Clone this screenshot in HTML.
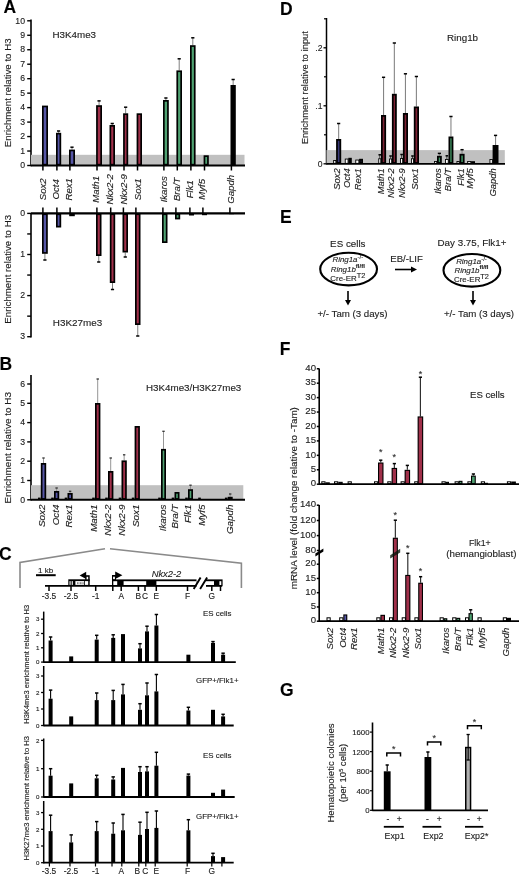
<!DOCTYPE html>
<html><head><meta charset="utf-8"><style>
html,body{margin:0;padding:0;background:#fff;}
svg{display:block;font-family:"Liberation Sans", sans-serif;filter:blur(0.25px);}
text{filter:grayscale(1);stroke:#2a2a2a;stroke-width:0.13px;}
</style></head><body>
<svg width="520" height="875" viewBox="0 0 520 875">
<rect width="520" height="875" fill="#fff"/>
<text x="3.60" y="12.70" font-size="17.5" text-anchor="start" font-weight="bold" fill="#000">A</text>
<line x1="31.00" y1="19.50" x2="31.00" y2="166.25" stroke="#000" stroke-width="1.6"/>
<rect x="31.00" y="154.80" width="213.50" height="10.70" fill="#c0c0c0"/>
<line x1="27.20" y1="165.50" x2="31.00" y2="165.50" stroke="#000" stroke-width="1.4"/>
<text x="25.00" y="168.20" font-size="8.7" text-anchor="end" fill="#1a1a1a">0</text>
<line x1="27.20" y1="151.03" x2="31.00" y2="151.03" stroke="#000" stroke-width="1.4"/>
<text x="25.00" y="153.73" font-size="8.7" text-anchor="end" fill="#1a1a1a">1</text>
<line x1="27.20" y1="136.56" x2="31.00" y2="136.56" stroke="#000" stroke-width="1.4"/>
<text x="25.00" y="139.26" font-size="8.7" text-anchor="end" fill="#1a1a1a">2</text>
<line x1="27.20" y1="122.09" x2="31.00" y2="122.09" stroke="#000" stroke-width="1.4"/>
<text x="25.00" y="124.79" font-size="8.7" text-anchor="end" fill="#1a1a1a">3</text>
<line x1="27.20" y1="107.62" x2="31.00" y2="107.62" stroke="#000" stroke-width="1.4"/>
<text x="25.00" y="110.32" font-size="8.7" text-anchor="end" fill="#1a1a1a">4</text>
<line x1="27.20" y1="93.15" x2="31.00" y2="93.15" stroke="#000" stroke-width="1.4"/>
<text x="25.00" y="95.85" font-size="8.7" text-anchor="end" fill="#1a1a1a">5</text>
<line x1="27.20" y1="78.68" x2="31.00" y2="78.68" stroke="#000" stroke-width="1.4"/>
<text x="25.00" y="81.38" font-size="8.7" text-anchor="end" fill="#1a1a1a">6</text>
<line x1="27.20" y1="64.21" x2="31.00" y2="64.21" stroke="#000" stroke-width="1.4"/>
<text x="25.00" y="66.91" font-size="8.7" text-anchor="end" fill="#1a1a1a">7</text>
<line x1="27.20" y1="49.74" x2="31.00" y2="49.74" stroke="#000" stroke-width="1.4"/>
<text x="25.00" y="52.44" font-size="8.7" text-anchor="end" fill="#1a1a1a">8</text>
<line x1="27.20" y1="35.27" x2="31.00" y2="35.27" stroke="#000" stroke-width="1.4"/>
<text x="25.00" y="37.97" font-size="8.7" text-anchor="end" fill="#1a1a1a">9</text>
<line x1="27.20" y1="20.80" x2="31.00" y2="20.80" stroke="#000" stroke-width="1.4"/>
<text x="25.00" y="23.50" font-size="8.7" text-anchor="end" fill="#1a1a1a">10</text>
<text transform="translate(11.00,92.80) rotate(-90)" font-size="9.7" text-anchor="middle" fill="#1a1a1a">Enrichment relative to H3</text>
<text x="52.50" y="37.60" font-size="9.8" text-anchor="start" fill="#1a1a1a">H3K4me3</text>
<rect x="42.00" y="105.60" width="6.00" height="59.90" fill="#000"/>
<rect x="43.70" y="107.30" width="2.60" height="56.50" fill="#5656a6"/>
<line x1="42.90" y1="165.50" x2="42.90" y2="170.50" stroke="#000" stroke-width="1.5"/>
<line x1="58.60" y1="132.80" x2="58.60" y2="131.00" stroke="#808080" stroke-width="1.0"/>
<line x1="57.00" y1="131.00" x2="60.20" y2="131.00" stroke="#000" stroke-width="1.5"/>
<rect x="56.00" y="132.80" width="5.20" height="32.70" fill="#000"/>
<rect x="57.70" y="134.50" width="1.80" height="29.30" fill="#5656a6"/>
<line x1="56.90" y1="165.50" x2="56.90" y2="170.50" stroke="#000" stroke-width="1.5"/>
<line x1="72.00" y1="149.60" x2="72.00" y2="147.20" stroke="#808080" stroke-width="1.0"/>
<line x1="70.40" y1="147.20" x2="73.60" y2="147.20" stroke="#000" stroke-width="1.5"/>
<rect x="69.00" y="149.60" width="6.00" height="15.90" fill="#000"/>
<rect x="70.70" y="151.30" width="2.60" height="12.50" fill="#5656a6"/>
<line x1="69.90" y1="165.50" x2="69.90" y2="170.50" stroke="#000" stroke-width="1.5"/>
<line x1="99.05" y1="105.20" x2="99.05" y2="100.90" stroke="#808080" stroke-width="1.0"/>
<line x1="97.45" y1="100.90" x2="100.65" y2="100.90" stroke="#000" stroke-width="1.5"/>
<rect x="96.10" y="105.20" width="5.90" height="60.30" fill="#000"/>
<rect x="97.80" y="106.90" width="2.50" height="56.90" fill="#a0304a"/>
<line x1="97.00" y1="165.50" x2="97.00" y2="170.50" stroke="#000" stroke-width="1.5"/>
<line x1="112.25" y1="125.00" x2="112.25" y2="123.50" stroke="#808080" stroke-width="1.0"/>
<line x1="110.65" y1="123.50" x2="113.85" y2="123.50" stroke="#000" stroke-width="1.5"/>
<rect x="109.50" y="125.00" width="5.50" height="40.50" fill="#000"/>
<rect x="111.20" y="126.70" width="2.10" height="37.10" fill="#a0304a"/>
<line x1="110.40" y1="165.50" x2="110.40" y2="170.50" stroke="#000" stroke-width="1.5"/>
<line x1="125.65" y1="113.30" x2="125.65" y2="107.20" stroke="#808080" stroke-width="1.0"/>
<line x1="124.05" y1="107.20" x2="127.25" y2="107.20" stroke="#000" stroke-width="1.5"/>
<rect x="123.10" y="113.30" width="5.10" height="52.20" fill="#000"/>
<rect x="124.80" y="115.00" width="1.70" height="48.80" fill="#a0304a"/>
<line x1="124.00" y1="165.50" x2="124.00" y2="170.50" stroke="#000" stroke-width="1.5"/>
<rect x="136.60" y="113.30" width="5.40" height="52.20" fill="#000"/>
<rect x="138.30" y="115.00" width="2.00" height="48.80" fill="#a0304a"/>
<line x1="137.50" y1="165.50" x2="137.50" y2="170.50" stroke="#000" stroke-width="1.5"/>
<line x1="165.90" y1="100.00" x2="165.90" y2="98.00" stroke="#808080" stroke-width="1.0"/>
<line x1="164.30" y1="98.00" x2="167.50" y2="98.00" stroke="#000" stroke-width="1.5"/>
<rect x="163.00" y="100.00" width="5.80" height="65.50" fill="#000"/>
<rect x="164.70" y="101.70" width="2.40" height="62.10" fill="#4fa272"/>
<line x1="163.90" y1="165.50" x2="163.90" y2="170.50" stroke="#000" stroke-width="1.5"/>
<line x1="179.20" y1="70.40" x2="179.20" y2="58.80" stroke="#808080" stroke-width="1.0"/>
<line x1="177.60" y1="58.80" x2="180.80" y2="58.80" stroke="#000" stroke-width="1.5"/>
<rect x="176.40" y="70.40" width="5.60" height="95.10" fill="#000"/>
<rect x="178.10" y="72.10" width="2.20" height="91.70" fill="#4fa272"/>
<line x1="177.30" y1="165.50" x2="177.30" y2="170.50" stroke="#000" stroke-width="1.5"/>
<line x1="192.80" y1="45.20" x2="192.80" y2="37.80" stroke="#808080" stroke-width="1.0"/>
<line x1="191.20" y1="37.80" x2="194.40" y2="37.80" stroke="#000" stroke-width="1.5"/>
<rect x="190.00" y="45.20" width="5.60" height="120.30" fill="#000"/>
<rect x="191.70" y="46.90" width="2.20" height="116.90" fill="#4fa272"/>
<line x1="190.90" y1="165.50" x2="190.90" y2="170.50" stroke="#000" stroke-width="1.5"/>
<rect x="203.60" y="155.30" width="5.20" height="10.20" fill="#000"/>
<rect x="205.30" y="157.00" width="1.80" height="6.80" fill="#4fa272"/>
<line x1="204.50" y1="165.50" x2="204.50" y2="170.50" stroke="#000" stroke-width="1.5"/>
<line x1="233.15" y1="85.00" x2="233.15" y2="79.50" stroke="#808080" stroke-width="1.0"/>
<line x1="231.55" y1="79.50" x2="234.75" y2="79.50" stroke="#000" stroke-width="1.5"/>
<rect x="230.50" y="85.00" width="5.30" height="80.50" fill="#000"/>
<rect x="232.20" y="86.70" width="1.90" height="77.10" fill="#000"/>
<line x1="231.40" y1="165.50" x2="231.40" y2="170.50" stroke="#000" stroke-width="1.5"/>
<line x1="31.00" y1="165.50" x2="245.00" y2="165.50" stroke="#000" stroke-width="2.2"/>
<text transform="translate(46.36,189.30) rotate(-90)" font-size="9.6" text-anchor="middle" font-style="italic" fill="#1a1a1a">Sox2</text>
<text transform="translate(59.46,189.30) rotate(-90)" font-size="9.6" text-anchor="middle" font-style="italic" fill="#1a1a1a">Oct4</text>
<text transform="translate(72.16,189.30) rotate(-90)" font-size="9.6" text-anchor="middle" font-style="italic" fill="#1a1a1a">Rex1</text>
<text transform="translate(99.26,189.30) rotate(-90)" font-size="9.6" text-anchor="middle" font-style="italic" fill="#1a1a1a">Math1</text>
<text transform="translate(113.06,189.30) rotate(-90)" font-size="9.6" text-anchor="middle" font-style="italic" fill="#1a1a1a">Nkx2-2</text>
<text transform="translate(127.26,189.30) rotate(-90)" font-size="9.6" text-anchor="middle" font-style="italic" fill="#1a1a1a">Nkx2-9</text>
<text transform="translate(140.56,189.30) rotate(-90)" font-size="9.6" text-anchor="middle" font-style="italic" fill="#1a1a1a">Sox1</text>
<text transform="translate(167.06,189.30) rotate(-90)" font-size="9.6" text-anchor="middle" font-style="italic" fill="#1a1a1a">Ikaros</text>
<text transform="translate(180.16,189.30) rotate(-90)" font-size="9.6" text-anchor="middle" font-style="italic" fill="#1a1a1a">Bra/T</text>
<text transform="translate(193.16,189.30) rotate(-90)" font-size="9.6" text-anchor="middle" font-style="italic" fill="#1a1a1a">Flk1</text>
<text transform="translate(205.46,189.30) rotate(-90)" font-size="9.6" text-anchor="middle" font-style="italic" fill="#1a1a1a">Myf5</text>
<text transform="translate(234.46,189.30) rotate(-90)" font-size="9.6" text-anchor="middle" font-style="italic" fill="#1a1a1a">Gapdh</text>
<line x1="31.00" y1="212.90" x2="31.00" y2="337.50" stroke="#000" stroke-width="1.6"/>
<line x1="27.20" y1="213.40" x2="31.00" y2="213.40" stroke="#000" stroke-width="1.4"/>
<text x="25.00" y="216.10" font-size="8.7" text-anchor="end" fill="#1a1a1a">0</text>
<line x1="27.20" y1="254.50" x2="31.00" y2="254.50" stroke="#000" stroke-width="1.4"/>
<text x="25.00" y="257.20" font-size="8.7" text-anchor="end" fill="#1a1a1a">1</text>
<line x1="27.20" y1="295.60" x2="31.00" y2="295.60" stroke="#000" stroke-width="1.4"/>
<text x="25.00" y="298.30" font-size="8.7" text-anchor="end" fill="#1a1a1a">2</text>
<line x1="27.20" y1="336.70" x2="31.00" y2="336.70" stroke="#000" stroke-width="1.4"/>
<text x="25.00" y="339.40" font-size="8.7" text-anchor="end" fill="#1a1a1a">3</text>
<line x1="27.20" y1="233.95" x2="31.00" y2="233.95" stroke="#000" stroke-width="1.4"/>
<line x1="27.20" y1="275.05" x2="31.00" y2="275.05" stroke="#000" stroke-width="1.4"/>
<line x1="27.20" y1="316.15" x2="31.00" y2="316.15" stroke="#000" stroke-width="1.4"/>
<text transform="translate(11.10,269.30) rotate(-90)" font-size="9.7" text-anchor="middle" fill="#1a1a1a">Enrichment relative to H3</text>
<text x="52.80" y="326.20" font-size="9.9" text-anchor="start" fill="#1a1a1a">H3K27me3</text>
<line x1="44.90" y1="253.80" x2="44.90" y2="260.00" stroke="#808080" stroke-width="1.0"/>
<line x1="43.30" y1="260.00" x2="46.50" y2="260.00" stroke="#000" stroke-width="1.5"/>
<rect x="42.00" y="213.40" width="5.80" height="40.40" fill="#000"/>
<rect x="43.70" y="215.10" width="2.40" height="37.00" fill="#5656a6"/>
<line x1="42.90" y1="207.50" x2="42.90" y2="213.40" stroke="#000" stroke-width="1.5"/>
<rect x="56.00" y="213.40" width="5.20" height="14.10" fill="#000"/>
<rect x="57.70" y="215.10" width="1.80" height="10.70" fill="#5656a6"/>
<line x1="56.90" y1="207.50" x2="56.90" y2="213.40" stroke="#000" stroke-width="1.5"/>
<rect x="69.20" y="213.40" width="5.60" height="2.80" fill="#000"/>
<line x1="70.10" y1="207.50" x2="70.10" y2="213.40" stroke="#000" stroke-width="1.5"/>
<line x1="98.75" y1="256.00" x2="98.75" y2="262.00" stroke="#808080" stroke-width="1.0"/>
<line x1="97.15" y1="262.00" x2="100.35" y2="262.00" stroke="#000" stroke-width="1.5"/>
<rect x="96.00" y="213.40" width="5.50" height="42.60" fill="#000"/>
<rect x="97.70" y="215.10" width="2.10" height="39.20" fill="#a0304a"/>
<line x1="96.90" y1="207.50" x2="96.90" y2="213.40" stroke="#000" stroke-width="1.5"/>
<line x1="112.50" y1="283.00" x2="112.50" y2="289.50" stroke="#808080" stroke-width="1.0"/>
<line x1="110.90" y1="289.50" x2="114.10" y2="289.50" stroke="#000" stroke-width="1.5"/>
<rect x="109.80" y="213.40" width="5.40" height="69.60" fill="#000"/>
<rect x="111.50" y="215.10" width="2.00" height="66.20" fill="#a0304a"/>
<line x1="110.70" y1="207.50" x2="110.70" y2="213.40" stroke="#000" stroke-width="1.5"/>
<line x1="125.25" y1="252.50" x2="125.25" y2="257.00" stroke="#808080" stroke-width="1.0"/>
<line x1="123.65" y1="257.00" x2="126.85" y2="257.00" stroke="#000" stroke-width="1.5"/>
<rect x="122.50" y="213.40" width="5.50" height="39.10" fill="#000"/>
<rect x="124.20" y="215.10" width="2.10" height="35.70" fill="#a0304a"/>
<line x1="123.40" y1="207.50" x2="123.40" y2="213.40" stroke="#000" stroke-width="1.5"/>
<line x1="137.75" y1="325.00" x2="137.75" y2="336.00" stroke="#808080" stroke-width="1.0"/>
<line x1="136.15" y1="336.00" x2="139.35" y2="336.00" stroke="#000" stroke-width="1.5"/>
<rect x="135.00" y="213.40" width="5.50" height="111.60" fill="#000"/>
<rect x="136.70" y="215.10" width="2.10" height="108.20" fill="#a0304a"/>
<line x1="135.90" y1="207.50" x2="135.90" y2="213.40" stroke="#000" stroke-width="1.5"/>
<rect x="162.00" y="213.40" width="5.50" height="29.60" fill="#000"/>
<rect x="163.70" y="215.10" width="2.10" height="26.20" fill="#4fa272"/>
<line x1="162.90" y1="207.50" x2="162.90" y2="213.40" stroke="#000" stroke-width="1.5"/>
<rect x="175.00" y="213.40" width="5.20" height="6.00" fill="#000"/>
<rect x="176.70" y="215.10" width="1.80" height="2.60" fill="#4fa272"/>
<line x1="175.90" y1="207.50" x2="175.90" y2="213.40" stroke="#000" stroke-width="1.5"/>
<rect x="189.00" y="213.40" width="5.00" height="2.10" fill="#000"/>
<line x1="189.90" y1="207.50" x2="189.90" y2="213.40" stroke="#000" stroke-width="1.5"/>
<rect x="202.00" y="213.40" width="5.00" height="1.80" fill="#000"/>
<line x1="202.90" y1="207.50" x2="202.90" y2="213.40" stroke="#000" stroke-width="1.5"/>
<rect x="229.00" y="213.40" width="5.00" height="0.80" fill="#000"/>
<line x1="229.90" y1="207.50" x2="229.90" y2="213.40" stroke="#000" stroke-width="1.5"/>
<line x1="31.00" y1="213.40" x2="245.00" y2="213.40" stroke="#000" stroke-width="2.1"/>
<text x="-0.50" y="369.60" font-size="17.5" text-anchor="start" font-weight="bold" fill="#000">B</text>
<line x1="31.00" y1="375.00" x2="31.00" y2="500.55" stroke="#000" stroke-width="1.6"/>
<rect x="31.00" y="485.20" width="212.30" height="14.60" fill="#c0c0c0"/>
<line x1="27.20" y1="499.80" x2="31.00" y2="499.80" stroke="#000" stroke-width="1.4"/>
<text x="25.00" y="502.50" font-size="8.7" text-anchor="end" fill="#1a1a1a">0</text>
<line x1="27.20" y1="480.50" x2="31.00" y2="480.50" stroke="#000" stroke-width="1.4"/>
<text x="25.00" y="483.20" font-size="8.7" text-anchor="end" fill="#1a1a1a">1</text>
<line x1="27.20" y1="461.20" x2="31.00" y2="461.20" stroke="#000" stroke-width="1.4"/>
<text x="25.00" y="463.90" font-size="8.7" text-anchor="end" fill="#1a1a1a">2</text>
<line x1="27.20" y1="441.90" x2="31.00" y2="441.90" stroke="#000" stroke-width="1.4"/>
<text x="25.00" y="444.60" font-size="8.7" text-anchor="end" fill="#1a1a1a">3</text>
<line x1="27.20" y1="422.60" x2="31.00" y2="422.60" stroke="#000" stroke-width="1.4"/>
<text x="25.00" y="425.30" font-size="8.7" text-anchor="end" fill="#1a1a1a">4</text>
<line x1="27.20" y1="403.30" x2="31.00" y2="403.30" stroke="#000" stroke-width="1.4"/>
<text x="25.00" y="406.00" font-size="8.7" text-anchor="end" fill="#1a1a1a">5</text>
<line x1="27.20" y1="384.00" x2="31.00" y2="384.00" stroke="#000" stroke-width="1.4"/>
<text x="25.00" y="386.70" font-size="8.7" text-anchor="end" fill="#1a1a1a">6</text>
<text transform="translate(11.30,447.80) rotate(-90)" font-size="9.95" text-anchor="middle" fill="#1a1a1a">Enrichment relative to H3</text>
<text x="146.00" y="391.20" font-size="9.8" text-anchor="start" fill="#1a1a1a">H3K4me3/H3K27me3</text>
<line x1="43.50" y1="463.00" x2="43.50" y2="458.00" stroke="#8a8a8a" stroke-width="0.9"/>
<line x1="42.30" y1="458.00" x2="44.70" y2="458.00" stroke="#333" stroke-width="1.3"/>
<rect x="40.80" y="463.00" width="5.40" height="36.80" fill="#000"/>
<rect x="42.50" y="464.70" width="2.00" height="33.40" fill="#5656a6"/>
<rect x="38.00" y="497.60" width="2.60" height="2.20" fill="#000"/>
<line x1="56.60" y1="491.00" x2="56.60" y2="488.00" stroke="#8a8a8a" stroke-width="0.9"/>
<line x1="55.40" y1="488.00" x2="57.80" y2="488.00" stroke="#333" stroke-width="1.3"/>
<rect x="54.00" y="491.00" width="5.20" height="8.80" fill="#000"/>
<rect x="55.70" y="492.70" width="1.80" height="5.40" fill="#5656a6"/>
<rect x="51.20" y="497.60" width="2.60" height="2.20" fill="#000"/>
<line x1="70.10" y1="493.00" x2="70.10" y2="491.30" stroke="#8a8a8a" stroke-width="0.9"/>
<line x1="68.90" y1="491.30" x2="71.30" y2="491.30" stroke="#333" stroke-width="1.3"/>
<rect x="67.50" y="493.00" width="5.20" height="6.80" fill="#000"/>
<rect x="69.20" y="494.70" width="1.80" height="3.40" fill="#5656a6"/>
<rect x="64.70" y="497.60" width="2.60" height="2.20" fill="#000"/>
<line x1="97.70" y1="403.00" x2="97.70" y2="379.00" stroke="#8a8a8a" stroke-width="0.9"/>
<line x1="96.50" y1="379.00" x2="98.90" y2="379.00" stroke="#333" stroke-width="1.3"/>
<rect x="95.00" y="403.00" width="5.40" height="96.80" fill="#000"/>
<rect x="96.70" y="404.70" width="2.00" height="93.40" fill="#a0304a"/>
<rect x="92.20" y="497.60" width="2.60" height="2.20" fill="#000"/>
<line x1="110.70" y1="471.00" x2="110.70" y2="458.00" stroke="#8a8a8a" stroke-width="0.9"/>
<line x1="109.50" y1="458.00" x2="111.90" y2="458.00" stroke="#333" stroke-width="1.3"/>
<rect x="108.00" y="471.00" width="5.40" height="28.80" fill="#000"/>
<rect x="109.70" y="472.70" width="2.00" height="25.40" fill="#a0304a"/>
<rect x="105.20" y="497.60" width="2.60" height="2.20" fill="#000"/>
<line x1="124.15" y1="460.40" x2="124.15" y2="454.80" stroke="#8a8a8a" stroke-width="0.9"/>
<line x1="122.95" y1="454.80" x2="125.35" y2="454.80" stroke="#333" stroke-width="1.3"/>
<rect x="121.50" y="460.40" width="5.30" height="39.40" fill="#000"/>
<rect x="123.20" y="462.10" width="1.90" height="36.00" fill="#a0304a"/>
<rect x="118.70" y="497.60" width="2.60" height="2.20" fill="#000"/>
<rect x="134.60" y="426.00" width="5.30" height="73.80" fill="#000"/>
<rect x="136.30" y="427.70" width="1.90" height="70.40" fill="#a0304a"/>
<rect x="131.80" y="497.60" width="2.60" height="2.20" fill="#000"/>
<line x1="163.50" y1="448.90" x2="163.50" y2="431.30" stroke="#8a8a8a" stroke-width="0.9"/>
<line x1="162.30" y1="431.30" x2="164.70" y2="431.30" stroke="#333" stroke-width="1.3"/>
<rect x="161.00" y="448.90" width="5.00" height="50.90" fill="#000"/>
<rect x="162.70" y="450.60" width="1.60" height="47.50" fill="#4fa272"/>
<rect x="158.20" y="497.60" width="2.60" height="2.20" fill="#000"/>
<rect x="174.50" y="492.00" width="5.00" height="7.80" fill="#000"/>
<rect x="176.20" y="493.70" width="1.60" height="4.40" fill="#4fa272"/>
<rect x="171.70" y="497.60" width="2.60" height="2.20" fill="#000"/>
<line x1="190.50" y1="489.20" x2="190.50" y2="485.20" stroke="#8a8a8a" stroke-width="0.9"/>
<line x1="189.30" y1="485.20" x2="191.70" y2="485.20" stroke="#333" stroke-width="1.3"/>
<rect x="188.00" y="489.20" width="5.00" height="10.60" fill="#000"/>
<rect x="189.70" y="490.90" width="1.60" height="7.20" fill="#4fa272"/>
<rect x="185.20" y="497.60" width="2.60" height="2.20" fill="#000"/>
<rect x="201.00" y="499.00" width="5.00" height="0.80" fill="#000"/>
<rect x="198.20" y="497.60" width="2.60" height="2.20" fill="#000"/>
<line x1="230.20" y1="496.80" x2="230.20" y2="494.00" stroke="#8a8a8a" stroke-width="0.9"/>
<line x1="229.00" y1="494.00" x2="231.40" y2="494.00" stroke="#333" stroke-width="1.3"/>
<rect x="227.70" y="496.80" width="5.00" height="3.00" fill="#000"/>
<rect x="224.90" y="497.60" width="2.60" height="2.20" fill="#000"/>
<line x1="31.00" y1="499.80" x2="245.00" y2="499.80" stroke="#000" stroke-width="2.1"/>
<text transform="translate(44.83,504.60) rotate(-90)" font-size="9.8" text-anchor="end" font-style="italic" fill="#1a1a1a">Sox2</text>
<text transform="translate(58.73,504.60) rotate(-90)" font-size="9.8" text-anchor="end" font-style="italic" fill="#1a1a1a">Oct4</text>
<text transform="translate(71.73,504.60) rotate(-90)" font-size="9.8" text-anchor="end" font-style="italic" fill="#1a1a1a">Rex1</text>
<text transform="translate(97.33,504.60) rotate(-90)" font-size="9.8" text-anchor="end" font-style="italic" fill="#1a1a1a">Math1</text>
<text transform="translate(111.03,504.60) rotate(-90)" font-size="9.8" text-anchor="end" font-style="italic" fill="#1a1a1a">Nkx2-2</text>
<text transform="translate(124.93,504.60) rotate(-90)" font-size="9.8" text-anchor="end" font-style="italic" fill="#1a1a1a">Nkx2-9</text>
<text transform="translate(138.73,504.60) rotate(-90)" font-size="9.8" text-anchor="end" font-style="italic" fill="#1a1a1a">Sox1</text>
<text transform="translate(165.53,504.60) rotate(-90)" font-size="9.8" text-anchor="end" font-style="italic" fill="#1a1a1a">Ikaros</text>
<text transform="translate(177.53,504.60) rotate(-90)" font-size="9.8" text-anchor="end" font-style="italic" fill="#1a1a1a">Bra/T</text>
<text transform="translate(191.13,504.60) rotate(-90)" font-size="9.8" text-anchor="end" font-style="italic" fill="#1a1a1a">Flk1</text>
<text transform="translate(205.43,504.60) rotate(-90)" font-size="9.8" text-anchor="end" font-style="italic" fill="#1a1a1a">Myf5</text>
<text transform="translate(233.03,504.60) rotate(-90)" font-size="9.8" text-anchor="end" font-style="italic" fill="#1a1a1a">Gapdh</text>
<text x="-1.10" y="559.50" font-size="17.5" text-anchor="start" font-weight="bold" fill="#000">C</text>
<polyline points="20,588 20,562.5 105,548.8" fill="none" stroke="#8a8a8a" stroke-width="1.6"/>
<polyline points="110,548.8 241.4,563.3 241.4,588" fill="none" stroke="#8a8a8a" stroke-width="1.6"/>
<text x="38.00" y="572.50" font-size="8.0" text-anchor="start" fill="#1a1a1a">1 kb</text>
<line x1="36.00" y1="575.20" x2="55.70" y2="575.20" stroke="#000" stroke-width="2.0"/>
<line x1="45.00" y1="585.80" x2="197.00" y2="585.80" stroke="#000" stroke-width="1.8"/>
<line x1="206.00" y1="585.80" x2="222.00" y2="585.80" stroke="#000" stroke-width="1.8"/>
<rect x="68.30" y="579.30" width="21.40" height="6.50" fill="#000"/>
<rect x="85.30" y="575.20" width="4.40" height="6.00" fill="#000"/>
<rect x="69.50" y="581.10" width="1.10" height="3.80" fill="#fff"/>
<rect x="71.70" y="581.10" width="1.10" height="3.80" fill="#fff"/>
<rect x="75.40" y="581.10" width="8.60" height="3.80" fill="#fff"/>
<rect x="84.80" y="581.10" width="3.40" height="3.80" fill="#fff"/>
<rect x="86.50" y="576.80" width="1.70" height="2.50" fill="#fff"/>
<rect x="77.00" y="582.20" width="0.70" height="2.00" fill="#555"/>
<rect x="78.60" y="582.20" width="0.70" height="2.00" fill="#555"/>
<rect x="80.20" y="582.20" width="0.70" height="2.00" fill="#555"/>
<rect x="81.60" y="582.20" width="0.70" height="2.00" fill="#555"/>
<rect x="82.80" y="582.20" width="0.70" height="2.00" fill="#555"/>
<path d="M79.6,575.4 L86.2,571.8 L86.2,579 Z" fill="#000"/>
<rect x="112.00" y="575.00" width="4.00" height="11.00" fill="#000"/>
<rect x="113.10" y="576.70" width="1.80" height="2.60" fill="#fff"/>
<path d="M122.4,575.2 L115.2,571.4 L115.2,579.1 Z" fill="#000"/>
<rect x="112.00" y="579.40" width="110.60" height="6.90" fill="#000"/>
<rect x="113.30" y="581.20" width="3.90" height="3.80" fill="#fff"/>
<rect x="123.60" y="581.20" width="22.60" height="3.80" fill="#fff"/>
<rect x="156.40" y="581.20" width="40.00" height="3.80" fill="#fff"/>
<rect x="206.00" y="581.20" width="8.00" height="3.80" fill="#fff"/>
<rect x="219.40" y="581.20" width="1.90" height="3.80" fill="#fff"/>
<rect x="196.5" y="577" width="9.5" height="13" fill="#fff"/>
<path d="M193.7,589 L200.6,577.4 M200.1,589 L207.1,577.4" stroke="#000" stroke-width="1.9"/>
<text x="166.50" y="576.60" font-size="9.4" text-anchor="middle" font-style="italic" fill="#1a1a1a">Nkx2-2</text>
<line x1="49.00" y1="585.80" x2="49.00" y2="591.00" stroke="#000" stroke-width="1.5"/>
<line x1="71.00" y1="585.80" x2="71.00" y2="591.00" stroke="#000" stroke-width="1.5"/>
<line x1="95.70" y1="585.80" x2="95.70" y2="591.00" stroke="#000" stroke-width="1.5"/>
<line x1="121.20" y1="585.80" x2="121.20" y2="591.00" stroke="#000" stroke-width="1.5"/>
<line x1="138.40" y1="585.80" x2="138.40" y2="591.00" stroke="#000" stroke-width="1.5"/>
<line x1="145.00" y1="585.80" x2="145.00" y2="591.00" stroke="#000" stroke-width="1.5"/>
<line x1="156.30" y1="585.80" x2="156.30" y2="591.00" stroke="#000" stroke-width="1.5"/>
<line x1="187.50" y1="585.80" x2="187.50" y2="591.00" stroke="#000" stroke-width="1.5"/>
<line x1="211.80" y1="585.80" x2="211.80" y2="591.00" stroke="#000" stroke-width="1.5"/>
<line x1="112.80" y1="585.80" x2="112.80" y2="591.00" stroke="#000" stroke-width="1.5"/>
<line x1="220.50" y1="585.80" x2="220.50" y2="591.00" stroke="#000" stroke-width="1.5"/>
<text x="49.00" y="599.00" font-size="8.4" text-anchor="middle" fill="#1a1a1a">-3.5</text>
<text x="71.00" y="599.00" font-size="8.4" text-anchor="middle" fill="#1a1a1a">-2.5</text>
<text x="95.70" y="599.00" font-size="8.4" text-anchor="middle" fill="#1a1a1a">-1</text>
<text x="121.20" y="599.00" font-size="8.4" text-anchor="middle" fill="#1a1a1a">A</text>
<text x="138.40" y="599.00" font-size="8.4" text-anchor="middle" fill="#1a1a1a">B</text>
<text x="145.00" y="599.00" font-size="8.4" text-anchor="middle" fill="#1a1a1a">C</text>
<text x="156.30" y="599.00" font-size="8.4" text-anchor="middle" fill="#1a1a1a">E</text>
<text x="187.50" y="599.00" font-size="8.4" text-anchor="middle" fill="#1a1a1a">F</text>
<text x="211.80" y="599.00" font-size="8.4" text-anchor="middle" fill="#1a1a1a">G</text>
<line x1="43.70" y1="611.60" x2="43.70" y2="662.85" stroke="#000" stroke-width="1.5"/>
<line x1="41.10" y1="662.10" x2="43.70" y2="662.10" stroke="#000" stroke-width="1.3"/>
<text x="39.50" y="664.30" font-size="6.2" text-anchor="end" fill="#1a1a1a">0</text>
<line x1="41.10" y1="647.80" x2="43.70" y2="647.80" stroke="#000" stroke-width="1.3"/>
<text x="39.50" y="650.00" font-size="6.2" text-anchor="end" fill="#1a1a1a">1</text>
<line x1="41.10" y1="633.50" x2="43.70" y2="633.50" stroke="#000" stroke-width="1.3"/>
<text x="39.50" y="635.70" font-size="6.2" text-anchor="end" fill="#1a1a1a">2</text>
<line x1="41.10" y1="619.20" x2="43.70" y2="619.20" stroke="#000" stroke-width="1.3"/>
<text x="39.50" y="621.40" font-size="6.2" text-anchor="end" fill="#1a1a1a">3</text>
<line x1="50.60" y1="640.50" x2="50.60" y2="637.00" stroke="#000" stroke-width="1.1"/>
<line x1="48.90" y1="637.00" x2="52.30" y2="637.00" stroke="#000" stroke-width="1.5"/>
<rect x="48.60" y="640.50" width="4.00" height="21.60" fill="#000"/>
<rect x="69.20" y="656.40" width="4.00" height="5.70" fill="#000"/>
<line x1="96.70" y1="639.60" x2="96.70" y2="635.30" stroke="#000" stroke-width="1.1"/>
<line x1="95.00" y1="635.30" x2="98.40" y2="635.30" stroke="#000" stroke-width="1.5"/>
<rect x="94.70" y="639.60" width="4.00" height="22.50" fill="#000"/>
<line x1="113.20" y1="637.90" x2="113.20" y2="634.80" stroke="#000" stroke-width="1.1"/>
<line x1="111.50" y1="634.80" x2="114.90" y2="634.80" stroke="#000" stroke-width="1.5"/>
<rect x="111.20" y="637.90" width="4.00" height="24.20" fill="#000"/>
<rect x="121.00" y="634.10" width="4.00" height="28.00" fill="#000"/>
<line x1="140.00" y1="648.40" x2="140.00" y2="643.70" stroke="#000" stroke-width="1.1"/>
<line x1="138.30" y1="643.70" x2="141.70" y2="643.70" stroke="#000" stroke-width="1.5"/>
<rect x="138.00" y="648.40" width="4.00" height="13.70" fill="#000"/>
<line x1="147.00" y1="631.40" x2="147.00" y2="626.20" stroke="#000" stroke-width="1.1"/>
<line x1="145.30" y1="626.20" x2="148.70" y2="626.20" stroke="#000" stroke-width="1.5"/>
<rect x="145.00" y="631.40" width="4.00" height="30.70" fill="#000"/>
<line x1="156.40" y1="625.50" x2="156.40" y2="614.50" stroke="#000" stroke-width="1.1"/>
<line x1="154.70" y1="614.50" x2="158.10" y2="614.50" stroke="#000" stroke-width="1.5"/>
<rect x="154.40" y="625.50" width="4.00" height="36.60" fill="#000"/>
<rect x="186.40" y="654.70" width="4.00" height="7.40" fill="#000"/>
<line x1="213.00" y1="643.00" x2="213.00" y2="641.60" stroke="#000" stroke-width="1.1"/>
<line x1="211.30" y1="641.60" x2="214.70" y2="641.60" stroke="#000" stroke-width="1.5"/>
<rect x="211.00" y="643.00" width="4.00" height="19.10" fill="#000"/>
<line x1="223.10" y1="654.70" x2="223.10" y2="653.20" stroke="#000" stroke-width="1.1"/>
<line x1="221.40" y1="653.20" x2="224.80" y2="653.20" stroke="#000" stroke-width="1.5"/>
<rect x="221.10" y="654.70" width="4.00" height="7.40" fill="#000"/>
<line x1="43.70" y1="662.10" x2="235.80" y2="662.10" stroke="#000" stroke-width="1.8"/>
<text x="203.00" y="616.20" font-size="7.9" text-anchor="start" fill="#1a1a1a">ES cells</text>
<line x1="43.70" y1="666.00" x2="43.70" y2="726.25" stroke="#000" stroke-width="1.5"/>
<line x1="41.10" y1="725.50" x2="43.70" y2="725.50" stroke="#000" stroke-width="1.3"/>
<text x="39.50" y="727.70" font-size="6.2" text-anchor="end" fill="#1a1a1a">0</text>
<line x1="41.10" y1="709.00" x2="43.70" y2="709.00" stroke="#000" stroke-width="1.3"/>
<text x="39.50" y="711.20" font-size="6.2" text-anchor="end" fill="#1a1a1a">1</text>
<line x1="41.10" y1="692.50" x2="43.70" y2="692.50" stroke="#000" stroke-width="1.3"/>
<text x="39.50" y="694.70" font-size="6.2" text-anchor="end" fill="#1a1a1a">2</text>
<line x1="41.10" y1="676.00" x2="43.70" y2="676.00" stroke="#000" stroke-width="1.3"/>
<text x="39.50" y="678.20" font-size="6.2" text-anchor="end" fill="#1a1a1a">3</text>
<line x1="50.60" y1="698.70" x2="50.60" y2="690.10" stroke="#000" stroke-width="1.1"/>
<line x1="48.90" y1="690.10" x2="52.30" y2="690.10" stroke="#000" stroke-width="1.5"/>
<rect x="48.60" y="698.70" width="4.00" height="26.80" fill="#000"/>
<rect x="69.20" y="716.40" width="4.00" height="9.10" fill="#000"/>
<line x1="96.70" y1="700.10" x2="96.70" y2="693.00" stroke="#000" stroke-width="1.1"/>
<line x1="95.00" y1="693.00" x2="98.40" y2="693.00" stroke="#000" stroke-width="1.5"/>
<rect x="94.70" y="700.10" width="4.00" height="25.40" fill="#000"/>
<line x1="113.20" y1="700.10" x2="113.20" y2="690.40" stroke="#000" stroke-width="1.1"/>
<line x1="111.50" y1="690.40" x2="114.90" y2="690.40" stroke="#000" stroke-width="1.5"/>
<rect x="111.20" y="700.10" width="4.00" height="25.40" fill="#000"/>
<line x1="123.00" y1="694.40" x2="123.00" y2="684.40" stroke="#000" stroke-width="1.1"/>
<line x1="121.30" y1="684.40" x2="124.70" y2="684.40" stroke="#000" stroke-width="1.5"/>
<rect x="121.00" y="694.40" width="4.00" height="31.10" fill="#000"/>
<line x1="140.00" y1="709.80" x2="140.00" y2="703.70" stroke="#000" stroke-width="1.1"/>
<line x1="138.30" y1="703.70" x2="141.70" y2="703.70" stroke="#000" stroke-width="1.5"/>
<rect x="138.00" y="709.80" width="4.00" height="15.70" fill="#000"/>
<line x1="147.00" y1="695.30" x2="147.00" y2="683.00" stroke="#000" stroke-width="1.1"/>
<line x1="145.30" y1="683.00" x2="148.70" y2="683.00" stroke="#000" stroke-width="1.5"/>
<rect x="145.00" y="695.30" width="4.00" height="30.20" fill="#000"/>
<line x1="156.40" y1="691.40" x2="156.40" y2="674.50" stroke="#000" stroke-width="1.1"/>
<line x1="154.70" y1="674.50" x2="158.10" y2="674.50" stroke="#000" stroke-width="1.5"/>
<rect x="154.40" y="691.40" width="4.00" height="34.10" fill="#000"/>
<line x1="188.40" y1="710.50" x2="188.40" y2="707.30" stroke="#000" stroke-width="1.1"/>
<line x1="186.70" y1="707.30" x2="190.10" y2="707.30" stroke="#000" stroke-width="1.5"/>
<rect x="186.40" y="710.50" width="4.00" height="15.00" fill="#000"/>
<rect x="211.00" y="709.80" width="4.00" height="15.70" fill="#000"/>
<line x1="223.10" y1="716.40" x2="223.10" y2="714.30" stroke="#000" stroke-width="1.1"/>
<line x1="221.40" y1="714.30" x2="224.80" y2="714.30" stroke="#000" stroke-width="1.5"/>
<rect x="221.10" y="716.40" width="4.00" height="9.10" fill="#000"/>
<line x1="43.70" y1="725.50" x2="233.70" y2="725.50" stroke="#000" stroke-width="1.8"/>
<text x="196.00" y="683.00" font-size="7.9" text-anchor="start" fill="#1a1a1a">GFP+/Flk1+</text>
<text transform="translate(29.30,664.30) rotate(-90)" font-size="7.5" text-anchor="middle" fill="#1a1a1a">H3K4me3 enrichment relative to H3</text>
<line x1="43.70" y1="738.50" x2="43.70" y2="797.75" stroke="#000" stroke-width="1.5"/>
<line x1="41.10" y1="797.00" x2="43.70" y2="797.00" stroke="#000" stroke-width="1.3"/>
<text x="39.50" y="799.20" font-size="6.2" text-anchor="end" fill="#1a1a1a">0</text>
<line x1="41.10" y1="768.70" x2="43.70" y2="768.70" stroke="#000" stroke-width="1.3"/>
<text x="39.50" y="770.90" font-size="6.2" text-anchor="end" fill="#1a1a1a">1</text>
<line x1="41.10" y1="740.40" x2="43.70" y2="740.40" stroke="#000" stroke-width="1.3"/>
<text x="39.50" y="742.60" font-size="6.2" text-anchor="end" fill="#1a1a1a">2</text>
<line x1="50.60" y1="775.70" x2="50.60" y2="768.70" stroke="#000" stroke-width="1.1"/>
<line x1="48.90" y1="768.70" x2="52.30" y2="768.70" stroke="#000" stroke-width="1.5"/>
<rect x="48.60" y="775.70" width="4.00" height="21.30" fill="#000"/>
<rect x="69.20" y="783.40" width="4.00" height="13.60" fill="#000"/>
<line x1="96.70" y1="778.30" x2="96.70" y2="775.30" stroke="#000" stroke-width="1.1"/>
<line x1="95.00" y1="775.30" x2="98.40" y2="775.30" stroke="#000" stroke-width="1.5"/>
<rect x="94.70" y="778.30" width="4.00" height="18.70" fill="#000"/>
<line x1="113.20" y1="779.50" x2="113.20" y2="776.90" stroke="#000" stroke-width="1.1"/>
<line x1="111.50" y1="776.90" x2="114.90" y2="776.90" stroke="#000" stroke-width="1.5"/>
<rect x="111.20" y="779.50" width="4.00" height="17.50" fill="#000"/>
<rect x="121.00" y="767.90" width="4.00" height="29.10" fill="#000"/>
<line x1="140.00" y1="772.00" x2="140.00" y2="766.70" stroke="#000" stroke-width="1.1"/>
<line x1="138.30" y1="766.70" x2="141.70" y2="766.70" stroke="#000" stroke-width="1.5"/>
<rect x="138.00" y="772.00" width="4.00" height="25.00" fill="#000"/>
<line x1="147.00" y1="771.40" x2="147.00" y2="766.70" stroke="#000" stroke-width="1.1"/>
<line x1="145.30" y1="766.70" x2="148.70" y2="766.70" stroke="#000" stroke-width="1.5"/>
<rect x="145.00" y="771.40" width="4.00" height="25.60" fill="#000"/>
<line x1="156.40" y1="765.70" x2="156.40" y2="752.30" stroke="#000" stroke-width="1.1"/>
<line x1="154.70" y1="752.30" x2="158.10" y2="752.30" stroke="#000" stroke-width="1.5"/>
<rect x="154.40" y="765.70" width="4.00" height="31.30" fill="#000"/>
<line x1="188.40" y1="775.60" x2="188.40" y2="774.10" stroke="#000" stroke-width="1.1"/>
<line x1="186.70" y1="774.10" x2="190.10" y2="774.10" stroke="#000" stroke-width="1.5"/>
<rect x="186.40" y="775.60" width="4.00" height="21.40" fill="#000"/>
<rect x="211.00" y="792.80" width="4.00" height="4.20" fill="#000"/>
<rect x="221.10" y="789.60" width="4.00" height="7.40" fill="#000"/>
<line x1="43.70" y1="797.00" x2="234.70" y2="797.00" stroke="#000" stroke-width="1.8"/>
<text x="203.00" y="757.50" font-size="7.9" text-anchor="start" fill="#1a1a1a">ES cells</text>
<line x1="43.70" y1="801.00" x2="43.70" y2="863.45" stroke="#000" stroke-width="1.5"/>
<line x1="41.10" y1="862.70" x2="43.70" y2="862.70" stroke="#000" stroke-width="1.3"/>
<text x="39.50" y="864.90" font-size="6.2" text-anchor="end" fill="#1a1a1a">0</text>
<line x1="41.10" y1="846.00" x2="43.70" y2="846.00" stroke="#000" stroke-width="1.3"/>
<text x="39.50" y="848.20" font-size="6.2" text-anchor="end" fill="#1a1a1a">1</text>
<line x1="41.10" y1="829.30" x2="43.70" y2="829.30" stroke="#000" stroke-width="1.3"/>
<text x="39.50" y="831.50" font-size="6.2" text-anchor="end" fill="#1a1a1a">2</text>
<line x1="41.10" y1="812.60" x2="43.70" y2="812.60" stroke="#000" stroke-width="1.3"/>
<text x="39.50" y="814.80" font-size="6.2" text-anchor="end" fill="#1a1a1a">3</text>
<line x1="50.60" y1="831.10" x2="50.60" y2="815.20" stroke="#000" stroke-width="1.1"/>
<line x1="48.90" y1="815.20" x2="52.30" y2="815.20" stroke="#000" stroke-width="1.5"/>
<rect x="48.60" y="831.10" width="4.00" height="31.60" fill="#000"/>
<line x1="71.20" y1="842.40" x2="71.20" y2="834.90" stroke="#000" stroke-width="1.1"/>
<line x1="69.50" y1="834.90" x2="72.90" y2="834.90" stroke="#000" stroke-width="1.5"/>
<rect x="69.20" y="842.40" width="4.00" height="20.30" fill="#000"/>
<line x1="96.70" y1="831.10" x2="96.70" y2="821.60" stroke="#000" stroke-width="1.1"/>
<line x1="95.00" y1="821.60" x2="98.40" y2="821.60" stroke="#000" stroke-width="1.5"/>
<rect x="94.70" y="831.10" width="4.00" height="31.60" fill="#000"/>
<line x1="113.20" y1="833.70" x2="113.20" y2="823.00" stroke="#000" stroke-width="1.1"/>
<line x1="111.50" y1="823.00" x2="114.90" y2="823.00" stroke="#000" stroke-width="1.5"/>
<rect x="111.20" y="833.70" width="4.00" height="29.00" fill="#000"/>
<line x1="123.00" y1="830.30" x2="123.00" y2="814.40" stroke="#000" stroke-width="1.1"/>
<line x1="121.30" y1="814.40" x2="124.70" y2="814.40" stroke="#000" stroke-width="1.5"/>
<rect x="121.00" y="830.30" width="4.00" height="32.40" fill="#000"/>
<line x1="140.00" y1="834.90" x2="140.00" y2="822.20" stroke="#000" stroke-width="1.1"/>
<line x1="138.30" y1="822.20" x2="141.70" y2="822.20" stroke="#000" stroke-width="1.5"/>
<rect x="138.00" y="834.90" width="4.00" height="27.80" fill="#000"/>
<line x1="147.00" y1="829.00" x2="147.00" y2="812.30" stroke="#000" stroke-width="1.1"/>
<line x1="145.30" y1="812.30" x2="148.70" y2="812.30" stroke="#000" stroke-width="1.5"/>
<rect x="145.00" y="829.00" width="4.00" height="33.70" fill="#000"/>
<line x1="156.40" y1="827.90" x2="156.40" y2="811.00" stroke="#000" stroke-width="1.1"/>
<line x1="154.70" y1="811.00" x2="158.10" y2="811.00" stroke="#000" stroke-width="1.5"/>
<rect x="154.40" y="827.90" width="4.00" height="34.80" fill="#000"/>
<line x1="188.40" y1="830.30" x2="188.40" y2="819.70" stroke="#000" stroke-width="1.1"/>
<line x1="186.70" y1="819.70" x2="190.10" y2="819.70" stroke="#000" stroke-width="1.5"/>
<rect x="186.40" y="830.30" width="4.00" height="32.40" fill="#000"/>
<line x1="213.00" y1="856.10" x2="213.00" y2="853.30" stroke="#000" stroke-width="1.1"/>
<line x1="211.30" y1="853.30" x2="214.70" y2="853.30" stroke="#000" stroke-width="1.5"/>
<rect x="211.00" y="856.10" width="4.00" height="6.60" fill="#000"/>
<rect x="221.10" y="857.10" width="4.00" height="5.60" fill="#000"/>
<line x1="43.70" y1="862.70" x2="233.70" y2="862.70" stroke="#000" stroke-width="1.8"/>
<text x="196.00" y="819.30" font-size="7.9" text-anchor="start" fill="#1a1a1a">GFP+/Flk1+</text>
<text transform="translate(29.30,798.30) rotate(-90)" font-size="7.6" text-anchor="middle" fill="#1a1a1a">H3K27me3 enrichment relative to H3</text>
<line x1="49.40" y1="862.70" x2="49.40" y2="866.50" stroke="#000" stroke-width="1.2"/>
<line x1="70.00" y1="862.70" x2="70.00" y2="866.50" stroke="#000" stroke-width="1.2"/>
<line x1="95.50" y1="862.70" x2="95.50" y2="866.50" stroke="#000" stroke-width="1.2"/>
<line x1="112.00" y1="862.70" x2="112.00" y2="866.50" stroke="#000" stroke-width="1.2"/>
<line x1="121.80" y1="862.70" x2="121.80" y2="866.50" stroke="#000" stroke-width="1.2"/>
<line x1="138.80" y1="862.70" x2="138.80" y2="866.50" stroke="#000" stroke-width="1.2"/>
<line x1="145.80" y1="862.70" x2="145.80" y2="866.50" stroke="#000" stroke-width="1.2"/>
<line x1="155.20" y1="862.70" x2="155.20" y2="866.50" stroke="#000" stroke-width="1.2"/>
<line x1="187.20" y1="862.70" x2="187.20" y2="866.50" stroke="#000" stroke-width="1.2"/>
<line x1="211.80" y1="862.70" x2="211.80" y2="866.50" stroke="#000" stroke-width="1.2"/>
<line x1="221.90" y1="862.70" x2="221.90" y2="866.50" stroke="#000" stroke-width="1.2"/>
<text x="49.00" y="873.60" font-size="8.4" text-anchor="middle" fill="#1a1a1a">-3.5</text>
<text x="71.00" y="873.60" font-size="8.4" text-anchor="middle" fill="#1a1a1a">-2.5</text>
<text x="95.70" y="873.60" font-size="8.4" text-anchor="middle" fill="#1a1a1a">-1</text>
<text x="121.20" y="873.60" font-size="8.4" text-anchor="middle" fill="#1a1a1a">A</text>
<text x="137.30" y="873.60" font-size="8.4" text-anchor="middle" fill="#1a1a1a">B</text>
<text x="145.20" y="873.60" font-size="8.4" text-anchor="middle" fill="#1a1a1a">C</text>
<text x="156.30" y="873.60" font-size="8.4" text-anchor="middle" fill="#1a1a1a">E</text>
<text x="187.50" y="873.60" font-size="8.4" text-anchor="middle" fill="#1a1a1a">F</text>
<text x="211.80" y="873.60" font-size="8.4" text-anchor="middle" fill="#1a1a1a">G</text>
<text x="279.90" y="14.80" font-size="17.5" text-anchor="start" font-weight="bold" fill="#000">D</text>
<line x1="326.50" y1="18.00" x2="326.50" y2="164.55" stroke="#000" stroke-width="1.5"/>
<rect x="326.50" y="150.10" width="178.30" height="13.70" fill="#c0c0c0"/>
<line x1="323.50" y1="163.80" x2="326.50" y2="163.80" stroke="#000" stroke-width="1.3"/>
<text x="322.50" y="166.90" font-size="8.6" text-anchor="end" fill="#1a1a1a">0</text>
<line x1="323.50" y1="105.80" x2="326.50" y2="105.80" stroke="#000" stroke-width="1.3"/>
<text x="322.50" y="108.90" font-size="8.6" text-anchor="end" fill="#1a1a1a">.1</text>
<line x1="323.50" y1="47.80" x2="326.50" y2="47.80" stroke="#000" stroke-width="1.3"/>
<text x="322.50" y="50.90" font-size="8.6" text-anchor="end" fill="#1a1a1a">.2</text>
<line x1="324.00" y1="134.80" x2="326.50" y2="134.80" stroke="#000" stroke-width="1.2"/>
<line x1="324.00" y1="76.80" x2="326.50" y2="76.80" stroke="#000" stroke-width="1.2"/>
<line x1="324.00" y1="18.80" x2="326.50" y2="18.80" stroke="#000" stroke-width="1.2"/>
<text transform="translate(308.20,87.70) rotate(-90)" font-size="9.35" text-anchor="middle" fill="#1a1a1a">Enrichment relative to input</text>
<text x="447.00" y="41.30" font-size="9.8" text-anchor="start" fill="#1a1a1a">Ring1b</text>
<rect x="333.20" y="160.00" width="3.10" height="3.80" fill="#000"/>
<rect x="334.10" y="160.90" width="1.30" height="2.00" fill="#fff"/>
<line x1="338.65" y1="139.00" x2="338.65" y2="123.50" stroke="#858585" stroke-width="1.1"/>
<line x1="337.05" y1="123.50" x2="340.25" y2="123.50" stroke="#000" stroke-width="1.5"/>
<rect x="336.10" y="139.00" width="5.10" height="24.80" fill="#000"/>
<rect x="337.85" y="140.75" width="1.60" height="21.30" fill="#3a3a78"/>
<rect x="344.80" y="158.60" width="3.70" height="5.20" fill="#000"/>
<rect x="345.70" y="159.50" width="1.90" height="3.40" fill="#fff"/>
<rect x="348.30" y="157.80" width="3.50" height="6.00" fill="#000"/>
<rect x="355.30" y="159.60" width="4.00" height="4.20" fill="#000"/>
<rect x="356.20" y="160.50" width="2.20" height="2.40" fill="#fff"/>
<rect x="359.10" y="158.80" width="3.90" height="5.00" fill="#000"/>
<rect x="360.85" y="160.55" width="0.40" height="1.50" fill="#3a3a78"/>
<line x1="379.75" y1="158.30" x2="379.75" y2="154.80" stroke="#333" stroke-width="0.9"/>
<line x1="378.45" y1="154.80" x2="381.05" y2="154.80" stroke="#000" stroke-width="1.5"/>
<rect x="378.30" y="158.30" width="2.90" height="5.50" fill="#000"/>
<rect x="379.20" y="159.20" width="1.10" height="3.70" fill="#fff"/>
<line x1="383.55" y1="115.00" x2="383.55" y2="77.30" stroke="#858585" stroke-width="1.1"/>
<line x1="381.95" y1="77.30" x2="385.15" y2="77.30" stroke="#000" stroke-width="1.5"/>
<rect x="381.00" y="115.00" width="5.10" height="48.80" fill="#000"/>
<rect x="382.75" y="116.75" width="1.60" height="45.30" fill="#7e2234"/>
<line x1="390.60" y1="158.50" x2="390.60" y2="156.00" stroke="#333" stroke-width="0.9"/>
<line x1="389.30" y1="156.00" x2="391.90" y2="156.00" stroke="#000" stroke-width="1.5"/>
<rect x="389.10" y="158.50" width="3.00" height="5.30" fill="#000"/>
<rect x="390.00" y="159.40" width="1.20" height="3.50" fill="#fff"/>
<line x1="394.35" y1="93.80" x2="394.35" y2="43.00" stroke="#858585" stroke-width="1.1"/>
<line x1="392.75" y1="43.00" x2="395.95" y2="43.00" stroke="#000" stroke-width="1.5"/>
<rect x="391.90" y="93.80" width="4.90" height="70.00" fill="#000"/>
<rect x="393.65" y="95.55" width="1.40" height="66.50" fill="#7e2234"/>
<line x1="401.60" y1="158.00" x2="401.60" y2="154.50" stroke="#333" stroke-width="0.9"/>
<line x1="400.30" y1="154.50" x2="402.90" y2="154.50" stroke="#000" stroke-width="1.5"/>
<rect x="400.10" y="158.00" width="3.00" height="5.80" fill="#000"/>
<rect x="401.00" y="158.90" width="1.20" height="4.00" fill="#fff"/>
<line x1="405.45" y1="113.00" x2="405.45" y2="73.80" stroke="#858585" stroke-width="1.1"/>
<line x1="403.85" y1="73.80" x2="407.05" y2="73.80" stroke="#000" stroke-width="1.5"/>
<rect x="402.90" y="113.00" width="5.10" height="50.80" fill="#000"/>
<rect x="404.65" y="114.75" width="1.60" height="47.30" fill="#7e2234"/>
<line x1="412.50" y1="158.30" x2="412.50" y2="156.00" stroke="#333" stroke-width="0.9"/>
<line x1="411.20" y1="156.00" x2="413.80" y2="156.00" stroke="#000" stroke-width="1.5"/>
<rect x="411.00" y="158.30" width="3.00" height="5.50" fill="#000"/>
<rect x="411.90" y="159.20" width="1.20" height="3.70" fill="#fff"/>
<line x1="416.40" y1="106.50" x2="416.40" y2="76.50" stroke="#858585" stroke-width="1.1"/>
<line x1="414.80" y1="76.50" x2="418.00" y2="76.50" stroke="#000" stroke-width="1.5"/>
<rect x="413.80" y="106.50" width="5.20" height="57.30" fill="#000"/>
<rect x="415.55" y="108.25" width="1.70" height="53.80" fill="#7e2234"/>
<rect x="434.00" y="161.00" width="3.20" height="2.80" fill="#000"/>
<rect x="434.90" y="161.90" width="1.40" height="1.00" fill="#fff"/>
<line x1="439.40" y1="155.80" x2="439.40" y2="153.40" stroke="#858585" stroke-width="1.1"/>
<line x1="437.80" y1="153.40" x2="441.00" y2="153.40" stroke="#000" stroke-width="1.5"/>
<rect x="437.00" y="155.80" width="4.80" height="8.00" fill="#000"/>
<rect x="438.75" y="157.55" width="1.30" height="4.50" fill="#3f8f60"/>
<line x1="446.85" y1="159.00" x2="446.85" y2="155.80" stroke="#333" stroke-width="0.9"/>
<line x1="445.55" y1="155.80" x2="448.15" y2="155.80" stroke="#000" stroke-width="1.5"/>
<rect x="445.00" y="159.00" width="3.70" height="4.80" fill="#000"/>
<rect x="445.90" y="159.90" width="1.90" height="3.00" fill="#fff"/>
<line x1="450.95" y1="136.50" x2="450.95" y2="116.50" stroke="#858585" stroke-width="1.1"/>
<line x1="449.35" y1="116.50" x2="452.55" y2="116.50" stroke="#000" stroke-width="1.5"/>
<rect x="448.50" y="136.50" width="4.90" height="27.30" fill="#000"/>
<rect x="450.25" y="138.25" width="1.40" height="23.80" fill="#3f8f60"/>
<rect x="456.50" y="161.00" width="3.20" height="2.80" fill="#000"/>
<rect x="457.40" y="161.90" width="1.40" height="1.00" fill="#fff"/>
<line x1="462.05" y1="153.80" x2="462.05" y2="149.70" stroke="#858585" stroke-width="1.1"/>
<line x1="460.45" y1="149.70" x2="463.65" y2="149.70" stroke="#000" stroke-width="1.5"/>
<rect x="459.50" y="153.80" width="5.10" height="10.00" fill="#000"/>
<rect x="461.25" y="155.55" width="1.60" height="6.50" fill="#3f8f60"/>
<rect x="467.20" y="161.00" width="4.10" height="2.80" fill="#000"/>
<rect x="468.10" y="161.90" width="2.30" height="1.00" fill="#fff"/>
<rect x="471.10" y="161.20" width="3.90" height="2.60" fill="#000"/>
<rect x="489.50" y="159.00" width="3.30" height="4.80" fill="#000"/>
<rect x="490.40" y="159.90" width="1.50" height="3.00" fill="#fff"/>
<line x1="495.55" y1="145.00" x2="495.55" y2="135.40" stroke="#858585" stroke-width="1.1"/>
<line x1="493.95" y1="135.40" x2="497.15" y2="135.40" stroke="#000" stroke-width="1.5"/>
<rect x="492.60" y="145.00" width="5.90" height="18.80" fill="#000"/>
<rect x="494.35" y="146.75" width="2.40" height="15.30" fill="#000"/>
<line x1="326.50" y1="163.80" x2="505.00" y2="163.80" stroke="#000" stroke-width="1.8"/>
<text transform="translate(339.68,168.30) rotate(-90)" font-size="9.4" text-anchor="end" font-style="italic" fill="#1a1a1a">Sox2</text>
<text transform="translate(350.28,168.30) rotate(-90)" font-size="9.4" text-anchor="end" font-style="italic" fill="#1a1a1a">Oct4</text>
<text transform="translate(360.88,168.30) rotate(-90)" font-size="9.4" text-anchor="end" font-style="italic" fill="#1a1a1a">Rex1</text>
<text transform="translate(383.98,168.30) rotate(-90)" font-size="9.4" text-anchor="end" font-style="italic" fill="#1a1a1a">Math1</text>
<text transform="translate(394.08,168.30) rotate(-90)" font-size="9.4" text-anchor="end" font-style="italic" fill="#1a1a1a">Nkx2-2</text>
<text transform="translate(405.18,168.30) rotate(-90)" font-size="9.4" text-anchor="end" font-style="italic" fill="#1a1a1a">Nkx2-9</text>
<text transform="translate(418.08,168.30) rotate(-90)" font-size="9.4" text-anchor="end" font-style="italic" fill="#1a1a1a">Sox1</text>
<text transform="translate(441.18,168.30) rotate(-90)" font-size="9.4" text-anchor="end" font-style="italic" fill="#1a1a1a">Ikaros</text>
<text transform="translate(451.38,168.30) rotate(-90)" font-size="9.4" text-anchor="end" font-style="italic" fill="#1a1a1a">Bra/T</text>
<text transform="translate(463.78,168.30) rotate(-90)" font-size="9.4" text-anchor="end" font-style="italic" fill="#1a1a1a">Flk1</text>
<text transform="translate(472.58,168.30) rotate(-90)" font-size="9.4" text-anchor="end" font-style="italic" fill="#1a1a1a">Myf5</text>
<text transform="translate(495.68,168.30) rotate(-90)" font-size="9.4" text-anchor="end" font-style="italic" fill="#1a1a1a">Gapdh</text>
<text x="279.90" y="223.40" font-size="17.5" text-anchor="start" font-weight="bold" fill="#000">E</text>
<text x="347.80" y="247.20" font-size="9.8" text-anchor="middle" fill="#1a1a1a">ES cells</text>
<text x="472.00" y="246.00" font-size="9.8" text-anchor="middle" fill="#1a1a1a">Day 3.75, Flk1+</text>
<text x="406.50" y="261.50" font-size="9.6" text-anchor="middle" fill="#1a1a1a">EB/-LIF</text>
<line x1="395.00" y1="269.50" x2="413.00" y2="269.50" stroke="#000" stroke-width="1.6"/>
<path d="M417,269.5 L411,266.4 L411,272.6 Z" fill="#000"/>
<ellipse cx="348.6" cy="269.1" rx="28.4" ry="16.3" fill="none" stroke="#000" stroke-width="2.1"/>
<text x="347.8" y="262.3" font-size="7.9" text-anchor="middle" fill="#1a1a1a"><tspan font-style="italic">Ring1a</tspan><tspan font-size="6.0" dy="-3.2">-/-</tspan></text>
<text x="347.8" y="271.5" font-size="7.9" text-anchor="middle" fill="#1a1a1a"><tspan font-style="italic">Ring1b</tspan><tspan font-size="6.0" dy="-3.4" font-weight="bold">fl/fl</tspan></text>
<text x="347.8" y="281.2" font-size="7.9" text-anchor="middle" fill="#1a1a1a">Cre-ER<tspan font-size="7.4" dy="-3.0">T2</tspan></text>
<ellipse cx="471.9" cy="270.3" rx="28.4" ry="16.3" fill="none" stroke="#000" stroke-width="2.1"/>
<text x="471.5" y="264" font-size="7.9" text-anchor="middle" fill="#1a1a1a"><tspan font-style="italic">Ring1a</tspan><tspan font-size="6.0" dy="-3.2">-/-</tspan></text>
<text x="471.5" y="272.8" font-size="7.9" text-anchor="middle" fill="#1a1a1a"><tspan font-style="italic">Ring1b</tspan><tspan font-size="6.0" dy="-3.4" font-weight="bold">fl/fl</tspan></text>
<text x="471.5" y="281.9" font-size="7.9" text-anchor="middle" fill="#1a1a1a">Cre-ER<tspan font-size="7.4" dy="-3.0">T2</tspan></text>
<line x1="348.00" y1="291.00" x2="348.00" y2="301.50" stroke="#000" stroke-width="1.6"/>
<path d="M348,305.5 L345,300 L351,300 Z" fill="#000"/>
<line x1="473.00" y1="291.00" x2="473.00" y2="301.50" stroke="#000" stroke-width="1.6"/>
<path d="M473,305.5 L470,300 L476,300 Z" fill="#000"/>
<text x="352.50" y="316.50" font-size="9.7" text-anchor="middle" fill="#1a1a1a">+/- Tam (3 days)</text>
<text x="479.00" y="316.50" font-size="9.7" text-anchor="middle" fill="#1a1a1a">+/- Tam (3 days)</text>
<text x="279.80" y="354.50" font-size="17.5" text-anchor="start" font-weight="bold" fill="#000">F</text>
<line x1="319.20" y1="368.50" x2="319.20" y2="484.95" stroke="#000" stroke-width="1.6"/>
<line x1="316.80" y1="484.20" x2="319.20" y2="484.20" stroke="#000" stroke-width="1.5"/>
<text x="316.00" y="486.40" font-size="9.6" text-anchor="end" fill="#1a1a1a">0</text>
<line x1="316.80" y1="469.77" x2="319.20" y2="469.77" stroke="#000" stroke-width="1.5"/>
<text x="316.00" y="471.97" font-size="9.6" text-anchor="end" fill="#1a1a1a">5</text>
<line x1="316.80" y1="455.34" x2="319.20" y2="455.34" stroke="#000" stroke-width="1.5"/>
<text x="316.00" y="457.54" font-size="9.6" text-anchor="end" fill="#1a1a1a">10</text>
<line x1="316.80" y1="440.91" x2="319.20" y2="440.91" stroke="#000" stroke-width="1.5"/>
<text x="316.00" y="443.11" font-size="9.6" text-anchor="end" fill="#1a1a1a">15</text>
<line x1="316.80" y1="426.48" x2="319.20" y2="426.48" stroke="#000" stroke-width="1.5"/>
<text x="316.00" y="428.68" font-size="9.6" text-anchor="end" fill="#1a1a1a">20</text>
<line x1="316.80" y1="412.05" x2="319.20" y2="412.05" stroke="#000" stroke-width="1.5"/>
<text x="316.00" y="414.25" font-size="9.6" text-anchor="end" fill="#1a1a1a">25</text>
<line x1="316.80" y1="397.62" x2="319.20" y2="397.62" stroke="#000" stroke-width="1.5"/>
<text x="316.00" y="399.82" font-size="9.6" text-anchor="end" fill="#1a1a1a">30</text>
<line x1="316.80" y1="383.19" x2="319.20" y2="383.19" stroke="#000" stroke-width="1.5"/>
<text x="316.00" y="385.39" font-size="9.6" text-anchor="end" fill="#1a1a1a">35</text>
<line x1="316.80" y1="368.76" x2="319.20" y2="368.76" stroke="#000" stroke-width="1.5"/>
<text x="316.00" y="370.96" font-size="9.6" text-anchor="end" fill="#1a1a1a">40</text>
<text x="470.00" y="398.00" font-size="9.6" text-anchor="start" fill="#1a1a1a">ES cells</text>
<rect x="321.30" y="481.30" width="4.20" height="2.90" fill="#000"/>
<rect x="322.30" y="482.30" width="2.20" height="0.90" fill="#fff"/>
<rect x="325.50" y="482.30" width="4.30" height="1.90" fill="#000"/>
<rect x="334.00" y="481.30" width="4.20" height="2.90" fill="#000"/>
<rect x="335.00" y="482.30" width="2.20" height="0.90" fill="#fff"/>
<rect x="338.30" y="481.80" width="4.40" height="2.40" fill="#000"/>
<rect x="339.40" y="482.90" width="2.20" height="0.20" fill="#5656a6"/>
<rect x="347.60" y="481.30" width="4.20" height="2.90" fill="#000"/>
<rect x="348.60" y="482.30" width="2.20" height="0.90" fill="#fff"/>
<rect x="374.00" y="481.30" width="4.20" height="2.90" fill="#000"/>
<rect x="375.00" y="482.30" width="2.20" height="0.90" fill="#fff"/>
<line x1="380.75" y1="462.50" x2="380.75" y2="460.20" stroke="#2a2a2a" stroke-width="1.15"/>
<line x1="379.15" y1="460.20" x2="382.35" y2="460.20" stroke="#000" stroke-width="1.5"/>
<rect x="378.00" y="462.50" width="5.50" height="21.70" fill="#000"/>
<rect x="379.10" y="463.60" width="3.30" height="19.50" fill="#a0304a"/>
<text x="380.75" y="455.40" font-size="9" text-anchor="middle" fill="#333">*</text>
<rect x="387.30" y="481.30" width="4.20" height="2.90" fill="#000"/>
<rect x="388.30" y="482.30" width="2.20" height="0.90" fill="#fff"/>
<line x1="394.35" y1="467.90" x2="394.35" y2="463.60" stroke="#2a2a2a" stroke-width="1.15"/>
<line x1="392.75" y1="463.60" x2="395.95" y2="463.60" stroke="#000" stroke-width="1.5"/>
<rect x="391.60" y="467.90" width="5.50" height="16.30" fill="#000"/>
<rect x="392.70" y="469.00" width="3.30" height="14.10" fill="#a0304a"/>
<text x="394.35" y="460.10" font-size="9" text-anchor="middle" fill="#333">*</text>
<rect x="400.60" y="481.30" width="4.20" height="2.90" fill="#000"/>
<rect x="401.60" y="482.30" width="2.20" height="0.90" fill="#fff"/>
<line x1="407.35" y1="469.80" x2="407.35" y2="465.40" stroke="#2a2a2a" stroke-width="1.15"/>
<line x1="405.75" y1="465.40" x2="408.95" y2="465.40" stroke="#000" stroke-width="1.5"/>
<rect x="404.60" y="469.80" width="5.50" height="14.40" fill="#000"/>
<rect x="405.70" y="470.90" width="3.30" height="12.20" fill="#a0304a"/>
<rect x="414.20" y="481.30" width="4.20" height="2.90" fill="#000"/>
<rect x="415.20" y="482.30" width="2.20" height="0.90" fill="#fff"/>
<line x1="420.40" y1="416.40" x2="420.40" y2="377.20" stroke="#2a2a2a" stroke-width="1.15"/>
<line x1="418.80" y1="377.20" x2="422.00" y2="377.20" stroke="#000" stroke-width="1.5"/>
<rect x="417.60" y="416.40" width="5.60" height="67.80" fill="#000"/>
<rect x="418.70" y="417.50" width="3.40" height="65.60" fill="#a0304a"/>
<text x="420.40" y="376.80" font-size="9" text-anchor="middle" fill="#333">*</text>
<rect x="441.50" y="481.30" width="4.20" height="2.90" fill="#000"/>
<rect x="442.50" y="482.30" width="2.20" height="0.90" fill="#fff"/>
<rect x="445.50" y="481.80" width="3.50" height="2.40" fill="#000"/>
<rect x="446.60" y="482.90" width="1.30" height="0.20" fill="#4fa272"/>
<rect x="454.60" y="481.30" width="4.20" height="2.90" fill="#000"/>
<rect x="455.60" y="482.30" width="2.20" height="0.90" fill="#fff"/>
<rect x="458.60" y="480.80" width="3.90" height="3.40" fill="#000"/>
<rect x="459.70" y="481.90" width="1.70" height="1.20" fill="#4fa272"/>
<rect x="467.40" y="481.30" width="4.20" height="2.90" fill="#000"/>
<rect x="468.40" y="482.30" width="2.20" height="0.90" fill="#fff"/>
<line x1="473.40" y1="475.60" x2="473.40" y2="474.00" stroke="#2a2a2a" stroke-width="1.15"/>
<line x1="471.80" y1="474.00" x2="475.00" y2="474.00" stroke="#000" stroke-width="1.5"/>
<rect x="471.00" y="475.60" width="4.80" height="8.60" fill="#000"/>
<rect x="472.10" y="476.70" width="2.60" height="6.40" fill="#4fa272"/>
<rect x="480.80" y="481.30" width="4.20" height="2.90" fill="#000"/>
<rect x="481.80" y="482.30" width="2.20" height="0.90" fill="#fff"/>
<rect x="485.00" y="482.80" width="3.00" height="1.40" fill="#000"/>
<rect x="506.90" y="481.30" width="4.20" height="2.90" fill="#000"/>
<rect x="507.90" y="482.30" width="2.20" height="0.90" fill="#fff"/>
<rect x="511.20" y="481.50" width="4.70" height="2.70" fill="#000"/>
<rect x="512.30" y="482.60" width="2.50" height="0.50" fill="#000"/>
<line x1="319.20" y1="484.20" x2="519.00" y2="484.20" stroke="#000" stroke-width="1.8"/>
<line x1="319.20" y1="505.00" x2="319.20" y2="621.95" stroke="#000" stroke-width="1.6"/>
<line x1="316.80" y1="621.20" x2="319.20" y2="621.20" stroke="#000" stroke-width="1.5"/>
<text x="316.00" y="623.40" font-size="9.6" text-anchor="end" fill="#1a1a1a">0</text>
<line x1="316.80" y1="606.95" x2="319.20" y2="606.95" stroke="#000" stroke-width="1.5"/>
<text x="316.00" y="609.15" font-size="9.6" text-anchor="end" fill="#1a1a1a">5</text>
<line x1="316.80" y1="592.70" x2="319.20" y2="592.70" stroke="#000" stroke-width="1.5"/>
<text x="316.00" y="594.90" font-size="9.6" text-anchor="end" fill="#1a1a1a">10</text>
<line x1="316.80" y1="578.45" x2="319.20" y2="578.45" stroke="#000" stroke-width="1.5"/>
<text x="316.00" y="580.65" font-size="9.6" text-anchor="end" fill="#1a1a1a">15</text>
<line x1="316.80" y1="564.20" x2="319.20" y2="564.20" stroke="#000" stroke-width="1.5"/>
<text x="316.00" y="566.40" font-size="9.6" text-anchor="end" fill="#1a1a1a">20</text>
<line x1="316.80" y1="550.50" x2="319.20" y2="550.50" stroke="#000" stroke-width="1.5"/>
<text x="316.00" y="552.70" font-size="9.6" text-anchor="end" fill="#1a1a1a">80</text>
<line x1="316.80" y1="535.60" x2="319.20" y2="535.60" stroke="#000" stroke-width="1.5"/>
<text x="316.00" y="537.80" font-size="9.6" text-anchor="end" fill="#1a1a1a">100</text>
<line x1="316.80" y1="520.50" x2="319.20" y2="520.50" stroke="#000" stroke-width="1.5"/>
<text x="316.00" y="522.70" font-size="9.6" text-anchor="end" fill="#1a1a1a">120</text>
<line x1="316.80" y1="505.20" x2="319.20" y2="505.20" stroke="#000" stroke-width="1.5"/>
<text x="316.00" y="507.40" font-size="9.6" text-anchor="end" fill="#1a1a1a">140</text>
<path d="M315.4,553.6 L323.4,548.6 L323.4,551.6 L315.4,556.6 Z" fill="#000"/>
<text transform="translate(297.40,498.20) rotate(-90)" font-size="9.9" text-anchor="middle" fill="#1a1a1a">mRNA level (fold change relative to -Tam)</text>
<text x="469.00" y="546.40" font-size="8.8" text-anchor="start" fill="#1a1a1a">Flk1+</text>
<text x="446.20" y="556.60" font-size="9.8" text-anchor="start" fill="#1a1a1a">(hemangioblast)</text>
<rect x="326.50" y="617.30" width="4.20" height="3.90" fill="#000"/>
<rect x="327.50" y="618.30" width="2.20" height="1.90" fill="#fff"/>
<rect x="339.20" y="617.30" width="4.20" height="3.90" fill="#000"/>
<rect x="340.20" y="618.30" width="2.20" height="1.90" fill="#fff"/>
<rect x="343.30" y="614.40" width="4.00" height="6.80" fill="#000"/>
<rect x="344.40" y="615.50" width="1.80" height="4.60" fill="#5656a6"/>
<rect x="352.50" y="621.20" width="4.20" height="0.00" fill="#000"/>
<rect x="376.30" y="617.30" width="4.20" height="3.90" fill="#000"/>
<rect x="377.30" y="618.30" width="2.20" height="1.90" fill="#fff"/>
<rect x="380.40" y="614.80" width="4.60" height="6.40" fill="#000"/>
<rect x="381.50" y="615.90" width="2.40" height="4.20" fill="#a0304a"/>
<rect x="389.00" y="617.30" width="4.20" height="3.90" fill="#000"/>
<rect x="390.00" y="618.30" width="2.20" height="1.90" fill="#fff"/>
<line x1="395.35" y1="537.70" x2="395.35" y2="520.20" stroke="#2a2a2a" stroke-width="1.15"/>
<line x1="393.75" y1="520.20" x2="396.95" y2="520.20" stroke="#000" stroke-width="1.5"/>
<rect x="392.80" y="537.70" width="5.10" height="83.50" fill="#000"/>
<rect x="393.90" y="538.80" width="2.90" height="81.30" fill="#a0304a"/>
<text x="395.35" y="518.30" font-size="9" text-anchor="middle" fill="#333">*</text>
<rect x="401.70" y="617.30" width="4.20" height="3.90" fill="#000"/>
<rect x="402.70" y="618.30" width="2.20" height="1.90" fill="#fff"/>
<line x1="407.80" y1="574.90" x2="407.80" y2="553.30" stroke="#2a2a2a" stroke-width="1.15"/>
<line x1="406.20" y1="553.30" x2="409.40" y2="553.30" stroke="#000" stroke-width="1.5"/>
<rect x="405.20" y="574.90" width="5.20" height="46.30" fill="#000"/>
<rect x="406.30" y="576.00" width="3.00" height="44.10" fill="#a0304a"/>
<text x="407.80" y="550.60" font-size="9" text-anchor="middle" fill="#333">*</text>
<rect x="414.40" y="617.30" width="4.20" height="3.90" fill="#000"/>
<rect x="415.40" y="618.30" width="2.20" height="1.90" fill="#fff"/>
<line x1="420.60" y1="582.70" x2="420.60" y2="576.70" stroke="#2a2a2a" stroke-width="1.15"/>
<line x1="419.00" y1="576.70" x2="422.20" y2="576.70" stroke="#000" stroke-width="1.5"/>
<rect x="418.20" y="582.70" width="4.80" height="38.50" fill="#000"/>
<rect x="419.30" y="583.80" width="2.60" height="36.30" fill="#a0304a"/>
<text x="420.60" y="574.30" font-size="9" text-anchor="middle" fill="#333">*</text>
<rect x="439.60" y="617.30" width="4.20" height="3.90" fill="#000"/>
<rect x="440.60" y="618.30" width="2.20" height="1.90" fill="#fff"/>
<rect x="443.60" y="618.20" width="3.70" height="3.00" fill="#000"/>
<rect x="444.70" y="619.30" width="1.50" height="0.80" fill="#4fa272"/>
<rect x="452.20" y="617.30" width="4.20" height="3.90" fill="#000"/>
<rect x="453.20" y="618.30" width="2.20" height="1.90" fill="#fff"/>
<rect x="456.20" y="617.80" width="4.10" height="3.40" fill="#000"/>
<rect x="457.30" y="618.90" width="1.90" height="1.20" fill="#4fa272"/>
<rect x="465.00" y="617.30" width="4.20" height="3.90" fill="#000"/>
<rect x="466.00" y="618.30" width="2.20" height="1.90" fill="#fff"/>
<line x1="470.70" y1="613.10" x2="470.70" y2="609.80" stroke="#2a2a2a" stroke-width="1.15"/>
<line x1="469.10" y1="609.80" x2="472.30" y2="609.80" stroke="#000" stroke-width="1.5"/>
<rect x="468.50" y="613.10" width="4.40" height="8.10" fill="#000"/>
<rect x="469.60" y="614.20" width="2.20" height="5.90" fill="#4fa272"/>
<rect x="477.50" y="617.30" width="4.20" height="3.90" fill="#000"/>
<rect x="478.50" y="618.30" width="2.20" height="1.90" fill="#fff"/>
<rect x="502.80" y="617.30" width="4.20" height="3.90" fill="#000"/>
<rect x="503.80" y="618.30" width="2.20" height="1.90" fill="#fff"/>
<rect x="507.00" y="617.80" width="4.00" height="3.40" fill="#000"/>
<rect x="508.10" y="618.90" width="1.80" height="1.20" fill="#000"/>
<path d="M390.2,555.2 L400.2,548.8 L400.2,552.4 L390.2,558.6 Z" fill="#0a140a" fill-opacity="0.8"/>
<line x1="319.20" y1="621.20" x2="519.00" y2="621.20" stroke="#000" stroke-width="1.8"/>
<text transform="translate(332.96,627.60) rotate(-90)" font-size="9.6" text-anchor="end" font-style="italic" fill="#1a1a1a">Sox2</text>
<text transform="translate(345.66,627.60) rotate(-90)" font-size="9.6" text-anchor="end" font-style="italic" fill="#1a1a1a">Oct4</text>
<text transform="translate(357.36,627.60) rotate(-90)" font-size="9.6" text-anchor="end" font-style="italic" fill="#1a1a1a">Rex1</text>
<text transform="translate(383.56,627.60) rotate(-90)" font-size="9.6" text-anchor="end" font-style="italic" fill="#1a1a1a">Math1</text>
<text transform="translate(395.66,627.60) rotate(-90)" font-size="9.6" text-anchor="end" font-style="italic" fill="#1a1a1a">Nkx2-2</text>
<text transform="translate(408.86,627.60) rotate(-90)" font-size="9.6" text-anchor="end" font-style="italic" fill="#1a1a1a">Nkx2-9</text>
<text transform="translate(420.96,627.60) rotate(-90)" font-size="9.6" text-anchor="end" font-style="italic" fill="#1a1a1a">Sox1</text>
<text transform="translate(448.56,627.60) rotate(-90)" font-size="9.6" text-anchor="end" font-style="italic" fill="#1a1a1a">Ikaros</text>
<text transform="translate(461.46,627.60) rotate(-90)" font-size="9.6" text-anchor="end" font-style="italic" fill="#1a1a1a">Bra/T</text>
<text transform="translate(472.96,627.60) rotate(-90)" font-size="9.6" text-anchor="end" font-style="italic" fill="#1a1a1a">Flk1</text>
<text transform="translate(485.16,627.60) rotate(-90)" font-size="9.6" text-anchor="end" font-style="italic" fill="#1a1a1a">Myf5</text>
<text transform="translate(509.36,627.60) rotate(-90)" font-size="9.6" text-anchor="end" font-style="italic" fill="#1a1a1a">Gapdh</text>
<text x="280.00" y="696.30" font-size="17.5" text-anchor="start" font-weight="bold" fill="#000">G</text>
<line x1="372.50" y1="722.50" x2="372.50" y2="811.05" stroke="#000" stroke-width="1.6"/>
<line x1="370.00" y1="810.30" x2="372.50" y2="810.30" stroke="#000" stroke-width="1.2"/>
<text x="369.50" y="813.20" font-size="7.8" text-anchor="end" fill="#1a1a1a">0</text>
<line x1="370.00" y1="790.75" x2="372.50" y2="790.75" stroke="#000" stroke-width="1.2"/>
<text x="369.50" y="793.65" font-size="7.8" text-anchor="end" fill="#1a1a1a">400</text>
<line x1="370.00" y1="771.20" x2="372.50" y2="771.20" stroke="#000" stroke-width="1.2"/>
<text x="369.50" y="774.10" font-size="7.8" text-anchor="end" fill="#1a1a1a">800</text>
<line x1="370.00" y1="751.65" x2="372.50" y2="751.65" stroke="#000" stroke-width="1.2"/>
<text x="369.50" y="754.55" font-size="7.8" text-anchor="end" fill="#1a1a1a">1200</text>
<line x1="370.00" y1="732.10" x2="372.50" y2="732.10" stroke="#000" stroke-width="1.2"/>
<text x="369.50" y="735.00" font-size="7.8" text-anchor="end" fill="#1a1a1a">1600</text>
<text transform="translate(334.00,773.00) rotate(-90)" font-size="9.6" text-anchor="middle" fill="#1a1a1a">Hematopoietic colonies</text>
<text transform="translate(345.5,773) rotate(-90)" font-size="9.6" text-anchor="middle" fill="#1a1a1a">(per 10<tspan font-size="5.5" dy="-3">5</tspan><tspan dy="3"> cells)</tspan></text>
<line x1="387.20" y1="771.30" x2="387.20" y2="765.00" stroke="#000" stroke-width="1.2"/>
<line x1="385.60" y1="765.00" x2="388.80" y2="765.00" stroke="#000" stroke-width="1.5"/>
<rect x="383.80" y="771.30" width="6.80" height="39.00" fill="#000"/>
<polyline points="386.8,756.5 386.8,753 400.5,753 400.5,756.5" fill="none" stroke="#000" stroke-width="1.5"/>
<text x="393.65" y="751.80" font-size="9" text-anchor="middle" fill="#333">*</text>
<line x1="427.90" y1="757.00" x2="427.90" y2="752.00" stroke="#000" stroke-width="1.2"/>
<line x1="426.30" y1="752.00" x2="429.50" y2="752.00" stroke="#000" stroke-width="1.5"/>
<rect x="424.50" y="757.00" width="6.80" height="53.30" fill="#000"/>
<polyline points="427.5,745.5 427.5,742 440.8,742 440.8,745.5" fill="none" stroke="#000" stroke-width="1.5"/>
<text x="434.15" y="740.80" font-size="9" text-anchor="middle" fill="#333">*</text>
<rect x="465.00" y="746.80" width="6.30" height="63.50" fill="#000"/>
<rect x="466.50" y="748.30" width="3.30" height="62.00" fill="#b0b0b0"/>
<line x1="468.15" y1="760.00" x2="468.15" y2="734.50" stroke="#000" stroke-width="1.2"/>
<line x1="466.55" y1="734.50" x2="469.75" y2="734.50" stroke="#000" stroke-width="1.3"/>
<line x1="466.55" y1="760.00" x2="469.75" y2="760.00" stroke="#000" stroke-width="1.3"/>
<polyline points="467.5,729.3 467.5,725.8 481.3,725.8 481.3,729.3" fill="none" stroke="#000" stroke-width="1.5"/>
<text x="474.40" y="724.60" font-size="9" text-anchor="middle" fill="#333">*</text>
<line x1="372.50" y1="810.30" x2="488.00" y2="810.30" stroke="#000" stroke-width="1.8"/>
<text x="388.00" y="822.00" font-size="8.5" text-anchor="middle" fill="#1a1a1a">-</text>
<text x="399.30" y="822.30" font-size="8.5" text-anchor="middle" fill="#1a1a1a">+</text>
<line x1="383.80" y1="826.80" x2="403.80" y2="826.80" stroke="#000" stroke-width="1.8"/>
<text x="394.60" y="838.50" font-size="8.8" text-anchor="middle" fill="#1a1a1a">Exp1</text>
<text x="427.50" y="822.00" font-size="8.5" text-anchor="middle" fill="#1a1a1a">-</text>
<text x="439.30" y="822.30" font-size="8.5" text-anchor="middle" fill="#1a1a1a">+</text>
<line x1="422.50" y1="826.80" x2="441.30" y2="826.80" stroke="#000" stroke-width="1.8"/>
<text x="433.40" y="838.50" font-size="8.8" text-anchor="middle" fill="#1a1a1a">Exp2</text>
<text x="468.30" y="822.00" font-size="8.5" text-anchor="middle" fill="#1a1a1a">-</text>
<text x="479.30" y="822.30" font-size="8.5" text-anchor="middle" fill="#1a1a1a">+</text>
<line x1="465.00" y1="826.80" x2="483.30" y2="826.80" stroke="#000" stroke-width="1.8"/>
<text x="476.60" y="838.50" font-size="8.8" text-anchor="middle" fill="#1a1a1a">Exp2*</text>
</svg>
</body></html>
